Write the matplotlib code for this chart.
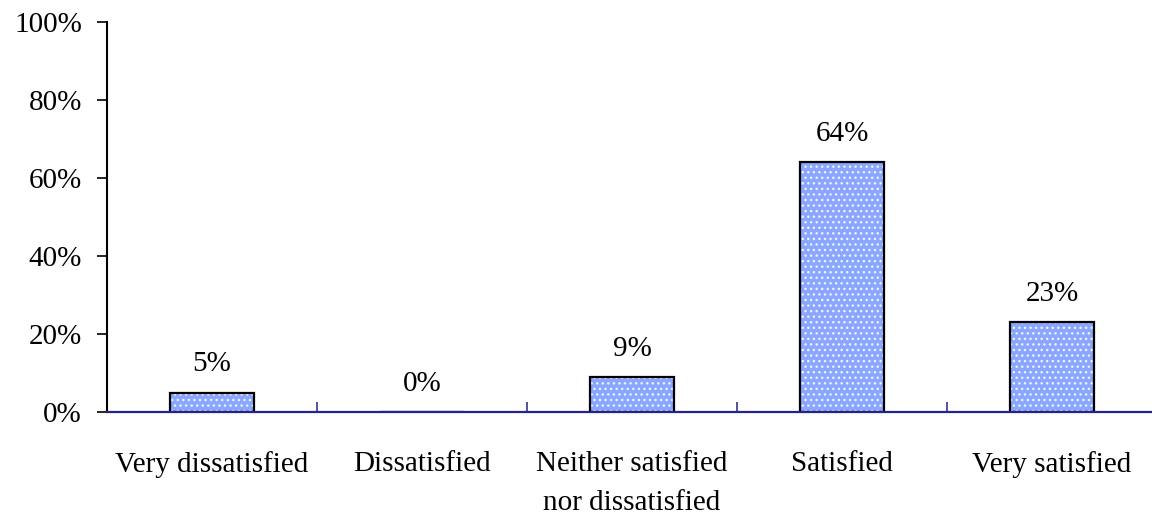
import matplotlib
matplotlib.use("Agg")
import matplotlib.pyplot as plt
import numpy as np

categories = ["Very dissatisfied", "Dissatisfied", "Neither satisfied\nnor dissatisfied",
              "Satisfied", "Very satisfied"]
values = [5, 0, 9, 64, 23]
y_ticks = [0, 20, 40, 60, 80, 100]
y_tick_labels = ["0%", "20%", "40%", "60%", "80%", "100%"]

plt.rcParams["font.family"] = ["Liberation Serif", "DejaVu Serif"]
plt.rcParams["hatch.linewidth"] = 1.0

FS = 21

fig = plt.figure(figsize=(11.52, 5.15), dpi=100)
ax = fig.add_axes([107 / 1152, 103 / 515, 1050 / 1152, 390 / 515])

x = np.arange(len(categories))
heights = np.array(values, dtype=float)

# patterned fill, then a crisp black outline on top
ax.bar(x, heights, width=0.4, color="#8AA6FF", hatch="...", edgecolor="#EEF2FF",
       linewidth=0, zorder=2)
ax.bar(x, heights, width=0.4, fill=False, edgecolor="black", linewidth=1.6, zorder=3)

for xi, v in zip(x, values):
    ax.annotate(f"{v}%", (xi, v), xytext=(0, 11), textcoords="offset points",
                ha="center", va="bottom", fontsize=FS)

ax.set_xlim(-0.5, len(categories) - 0.5)
ax.set_ylim(0, 100)
ax.set_yticks(y_ticks)
ax.set_yticklabels(y_tick_labels, fontsize=FS)
ax.set_xticks(x)
ax.set_xticklabels(categories, fontsize=FS, linespacing=1.65)
ax.set_xticks(np.arange(0.5, len(categories) - 0.5, 1.0), minor=True)

ax.tick_params(axis="y", direction="out", length=7, width=1.2, pad=11, colors="black")
ax.tick_params(axis="x", which="major", length=0, pad=28)
ax.tick_params(axis="x", which="minor", direction="in", length=7.5, width=1.2,
               color="#33339A")

for s in ("top", "right"):
    ax.spines[s].set_visible(False)
ax.spines["left"].set_color("black")
ax.spines["left"].set_linewidth(1.5)
ax.spines["bottom"].set_color("#23238A")
ax.spines["bottom"].set_linewidth(1.6)
ax.spines["bottom"].set_zorder(4)

fig.savefig("out.png", dpi=100)
